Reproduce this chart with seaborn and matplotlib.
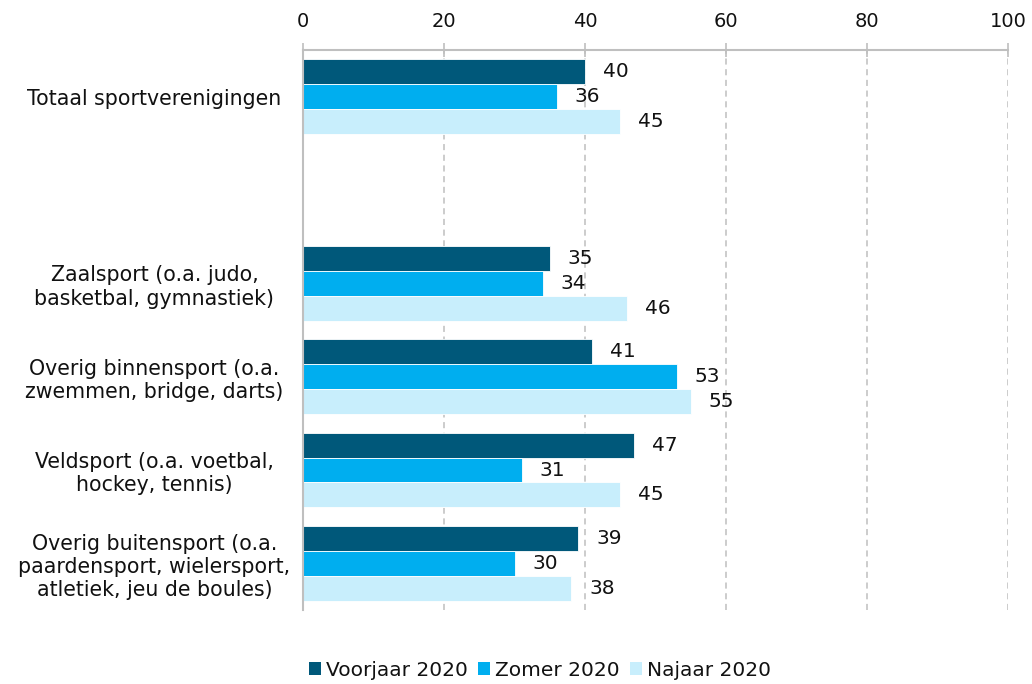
import matplotlib
matplotlib.use("Agg")
import matplotlib.pyplot as plt
import seaborn as sns
import pandas as pd
from matplotlib.ticker import FixedLocator
from matplotlib.patches import Patch

categories = [
    "Totaal sportverenigingen",
    "Zaalsport (o.a. judo,\nbasketbal, gymnastiek)",
    "Overig binnensport (o.a.\nzwemmen, bridge, darts)",
    "Veldsport (o.a. voetbal,\nhockey, tennis)",
    "Overig buitensport (o.a.\npaardensport, wielersport,\natletiek, jeu de boules)",
]
gap_label = " "
series = ["Voorjaar 2020", "Zomer 2020", "Najaar 2020"]
voorjaar = [40, 35, 41, 47, 39]
zomer = [36, 34, 53, 31, 30]
najaar = [45, 46, 55, 45, 38]
colors = ["#00587a", "#00aeef", "#c8eefc"]
xticks = [0, 20, 40, 60, 80, 100]

rows = []
for s, vals in zip(series, [voorjaar, zomer, najaar]):
    for c, v in zip(categories, vals):
        rows.append({"cat": c, "serie": s, "val": v})
df = pd.DataFrame(rows)
order = [categories[0], gap_label] + categories[1:]

sns.set_style("white")
plt.rcParams["font.family"] = ["DejaVu Sans"]
fig = plt.figure(figsize=(10.32, 6.84), dpi=100)
ax = fig.add_axes([303 / 1032, 1 - 610 / 684, 705 / 1032, 560 / 684])

sns.barplot(data=df, x="val", y="cat", hue="serie", order=order,
            hue_order=series, palette=colors, orient="h", width=0.8,
            errorbar=None, ax=ax, legend=False, saturation=1,
            edgecolor="white", linewidth=0.6)

for cont in ax.containers:
    ax.bar_label(cont, fmt="%g", padding=13, fontsize=14.5, color="#111111")

ax.set_xlim(0, 100)
ax.set_ylim(len(order) - 0.5, -0.5)
ax.xaxis.tick_top()
ax.set_xticks(xticks)
ax.tick_params(axis="x", which="major", direction="inout", length=10,
               color="#bfbfbf", width=1.2, labelsize=14, pad=9, labelcolor="#111111")
ax.set_xlabel("")
ax.set_ylabel("")

ax.set_yticks(range(len(order)))
ax.set_yticklabels(order, ha="center", multialignment="center", fontsize=14.8, color="#111111")
ax.tick_params(axis="y", which="major", length=0, pad=107)
ax.yaxis.set_minor_locator(FixedLocator([i - 0.5 for i in range(len(order) + 1)]))
ax.tick_params(axis="y", which="minor", length=6, color="#bfbfbf", width=1.2, direction="out")

ax.grid(axis="x", color="#bfbfbf", linestyle=(0, (4, 3)), linewidth=1.1)
ax.set_axisbelow(True)
for side in ["right", "bottom"]:
    ax.spines[side].set_visible(False)
for side in ["left", "top"]:
    ax.spines[side].set_color("#bfbfbf")
    ax.spines[side].set_linewidth(1.5)

handles = [Patch(facecolor=c, edgecolor="none") for c in colors]
fig.legend(handles, series, loc="center", bbox_to_anchor=(540 / 1032, 1 - 670 / 684),
           ncol=3, frameon=False, fontsize=14.5, handlelength=0.6, handleheight=0.6,
           handletextpad=0.25, columnspacing=0.5, borderpad=0, labelcolor="#111111")

fig.savefig("out.png", dpi=100)
